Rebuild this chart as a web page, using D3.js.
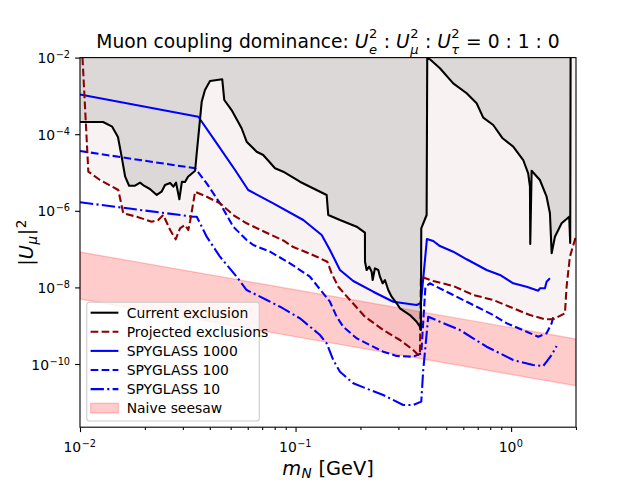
<!DOCTYPE html>
<html lang="en">
<head>
<meta charset="UTF-8">
<title>Muon coupling dominance</title>
<script src="https://d3js.org/d3.v7.min.js"></script>
<style>
  body { margin: 0; background: #fff; }
  svg { font-family: "DejaVu Sans", sans-serif; }
  .tick line { stroke: #000; stroke-width: 1.1; }
</style>
</head>
<body>
<svg width="640" height="480"></svg>
<script>
// values: [m_N in GeV, |U_mu|^2]
const currentExclusion = [
  [0.0100, 2.08e-4], [0.0128, 2.08e-4], [0.0141, 1.57e-4], [0.0150, 8.45e-5],
  [0.0156, 2.59e-5], [0.0162, 7.77e-6], [0.0169, 4.52e-6], [0.0180, 4.52e-6],
  [0.0190, 5.42e-6], [0.0198, 4.52e-6], [0.0211, 3.71e-6], [0.0227, 2.59e-6],
  [0.0239, 3.15e-6], [0.0248, 4.72e-6], [0.0262, 5.32e-6], [0.0271, 4.26e-6],
  [0.0279, 5.42e-6], [0.0289, 2.00e-6], [0.0297, 5.75e-6], [0.0307, 5.65e-6],
  [0.0317, 7.77e-6], [0.0342, 1.11e-5], [0.0348, 3.23e-5], [0.0354, 8.60e-5],
  [0.0367, 7.06e-4], [0.0380, 1.43e-3], [0.0401, 2.45e-3], [0.0457, 2.71e-3],
  [0.0467, 7.82e-4], [0.0505, 4.28e-4], [0.0562, 1.43e-4], [0.0593, 6.37e-5],
  [0.0660, 3.49e-5], [0.0708, 2.86e-5], [0.0803, 1.29e-5], [0.0877, 1.05e-5],
  [0.1048, 5.75e-6], [0.1166, 4.26e-6], [0.1394, 2.59e-6], [0.1418, 7.77e-7],
  [0.1607, 5.75e-7], [0.1920, 3.85e-7], [0.2098, 2.68e-7], [0.2100, 4.69e-8],
  [0.2137, 2.85e-8], [0.2197, 3.47e-8], [0.2254, 2.57e-8], [0.2279, 1.56e-8],
  [0.2335, 3.15e-8], [0.2419, 2.85e-8], [0.2464, 1.90e-8], [0.2535, 1.28e-8],
  [0.2598, 1.56e-8], [0.2692, 8.55e-9], [0.2791, 5.72e-9], [0.2943, 3.85e-9],
  [0.3049, 2.85e-9], [0.3393, 1.90e-9], [0.3645, 1.27e-9], [0.3776, 9.42e-10],
  [0.3815, 7.72e-10], [0.3830, 3.49e-7], [0.4056, 7.77e-7], [0.4082, 1.00e-2],
  [0.4201, 9.03e-3], [0.4675, 5.26e-3], [0.5389, 2.13e-3], [0.6219, 1.17e-3],
  [0.6918, 6.41e-4], [0.7424, 2.70e-4], [0.8260, 1.74e-4], [0.9134, 7.82e-5],
  [1.023, 4.72e-5], [1.138, 2.12e-5], [1.200, 9.53e-6], [1.223, 4.26e-6],
  [1.227, 1.36e-7], [1.245, 1.11e-5], [1.360, 6.37e-6], [1.461, 2.33e-6],
  [1.514, 8.60e-7], [1.542, 7.77e-8], [1.597, 2.11e-7], [1.715, 4.72e-7],
  [1.860, 7.02e-7], [1.880, 1.44e-7], [1.888, 1.00e-2]
];

const projectedExclusion = [
  [0.01027, 1.00e-2], [0.01093, 1.05e-5], [0.01238, 6.37e-6], [0.01505, 3.49e-6],
  [0.01588, 8.60e-7], [0.01832, 7.02e-7], [0.0215, 5.19e-7], [0.02307, 5.75e-7],
  [0.02434, 7.77e-7], [0.0262, 3.15e-7], [0.02779, 1.80e-7], [0.0291, 3.49e-7],
  [0.0307, 4.26e-7], [0.0318, 3.15e-7], [0.0324, 5.19e-7], [0.0342, 3.15e-6],
  [0.0387, 2.33e-6], [0.0446, 1.57e-6], [0.0514, 7.77e-7], [0.0593, 4.72e-7],
  [0.0721, 2.80e-7], [0.0877, 1.68e-7], [0.0976, 1.13e-7], [0.1106, 8.55e-8],
  [0.1253, 6.33e-8], [0.1403, 4.69e-8], [0.1470, 2.33e-8], [0.1578, 1.04e-8],
  [0.1788, 4.69e-9], [0.2098, 1.72e-9], [0.2551, 7.72e-10], [0.3049, 4.23e-10],
  [0.3515, 2.32e-10], [0.3708, 1.72e-10], [0.3776, 1.90e-10], [0.3816, 1.90e-8],
  [0.4352, 1.47e-8], [0.5389, 1.09e-8], [0.6671, 6.33e-9], [0.8260, 4.69e-9],
  [1.023, 2.85e-9], [1.223, 1.90e-9], [1.435, 1.47e-9], [1.568, 1.47e-9],
  [1.777, 2.11e-9], [1.809, 1.04e-8], [1.874, 6.33e-8], [2.000, 2.20e-7]
];

const spyglass1000 = [
  [0.0100, 1.09e-3], [0.0354, 2.86e-4], [0.0431, 5.79e-5], [0.0524, 1.16e-5],
  [0.0603, 3.49e-6], [0.0788, 1.57e-6], [0.1086, 5.75e-7], [0.1322, 2.33e-7],
  [0.1444, 9.47e-8], [0.1607, 2.85e-8], [0.1852, 1.47e-8], [0.2293, 7.72e-9],
  [0.2839, 4.23e-9], [0.3645, 3.47e-9], [0.3816, 3.91e-9], [0.4069, 1.84e-7],
  [0.4352, 1.63e-7], [0.4675, 1.20e-7], [0.5389, 8.55e-8], [0.6219, 5.42e-8],
  [0.7697, 2.85e-8], [0.8874, 2.11e-8], [1.023, 1.28e-8], [1.180, 1.04e-8],
  [1.336, 8.20e-9], [1.360, 9.47e-9], [1.435, 9.47e-9], [1.461, 1.41e-8],
  [1.514, 1.73e-8]
];

const spyglass100 = [
  [0.0100, 3.64e-5], [0.0342, 1.29e-5], [0.0387, 5.22e-6], [0.0446, 1.57e-6],
  [0.0514, 3.85e-7], [0.0593, 1.73e-7], [0.0637, 1.28e-7], [0.0761, 8.55e-8],
  [0.0942, 4.26e-8], [0.1166, 1.90e-8], [0.1344, 7.02e-9], [0.1444, 4.23e-9],
  [0.1551, 1.72e-9], [0.1664, 9.42e-10], [0.1920, 4.69e-10], [0.2214, 3.13e-10],
  [0.2551, 2.10e-10], [0.2943, 1.62e-10], [0.3515, 1.55e-10], [0.3830, 1.90e-10],
  [0.4004, 1.04e-8], [0.4201, 1.28e-8], [0.4513, 1.04e-8], [0.5389, 6.33e-9],
  [0.6671, 3.47e-9], [0.8260, 1.90e-9], [0.9530, 1.16e-9], [1.180, 6.97e-10],
  [1.336, 5.16e-10], [1.461, 6.33e-10], [1.542, 1.16e-9], [1.568, 1.72e-9]
];

const spyglass10 = [
  [0.0100, 1.67e-6], [0.0335, 7.02e-7], [0.0348, 7.02e-7], [0.0387, 2.11e-7],
  [0.0446, 6.33e-8], [0.0533, 1.90e-8], [0.0593, 8.55e-9], [0.0735, 4.69e-9],
  [0.0847, 3.13e-9], [0.1048, 1.56e-9], [0.1298, 5.72e-10], [0.1394, 3.47e-10],
  [0.1496, 1.27e-10], [0.1607, 6.30e-11], [0.1852, 3.13e-11], [0.2214, 2.10e-11],
  [0.2551, 1.55e-11], [0.3159, 8.50e-12], [0.3515, 8.50e-12], [0.3830, 1.04e-11],
  [0.3911, 6.97e-11], [0.4126, 1.72e-9], [0.4675, 1.27e-9], [0.5788, 7.72e-10],
  [0.7697, 2.83e-10], [1.023, 1.27e-10], [1.266, 9.42e-11], [1.409, 8.87e-11],
  [1.461, 1.15e-10], [1.542, 1.72e-10], [1.626, 2.95e-10]
];

// naive seesaw band edges
const seesawMass = [0.01, 2];
const seesawLow = [5.0e-9, 2.7e-11];
const seesawHigh = [8.4e-8, 4.5e-10];

const xTickValues = [0.01, 0.1, 1];
const xTickExp = ["−2", "−1", "0"];
const yTickValues = [1e-2, 1e-4, 1e-6, 1e-8, 1e-10];
const yTickExp = ["−2", "−4", "−6", "−8", "−10"];

const legendLabels = ["Current exclusion", "Projected exclusions", "SPYGLASS 1000",
                      "SPYGLASS 100", "SPYGLASS 10", "Naive seesaw"];

// ---------------------------------------------------------------
const svg = d3.select("svg");
const L = 80, R = 576, T = 57.6, B = 427.2;

const x = d3.scaleLog().domain([0.01, 2]).range([L, R]);
const y = d3.scaleLog().domain([Math.pow(10, -11.65), 1e-2]).range([B, T]);

const line = d3.line().x(d => x(d[0])).y(d => y(d[1]));
const lw = 2.08;
const DASH = "7.7,3.3";
const DASHDOT = "13.3,3.3,2.1,3.3";

svg.append("clipPath").attr("id", "plot")
  .append("rect").attr("x", L).attr("y", T).attr("width", R - L).attr("height", B - T);

const plot = svg.append("g").attr("clip-path", "url(#plot)");

// projected region (everything above the dashed red line)
plot.append("path")
  .attr("d", line([[0.01, 1e-2], ...projectedExclusion, [2, 1e-2]]) + "Z")
  .attr("fill", "#f8f2f2");

// current exclusion region
plot.append("path")
  .attr("d", line([...currentExclusion, [0.01, 1e-2]]) + "Z")
  .attr("fill", "#ddd8d8");

// seesaw band
const band = seesawMass.map((m, i) => [m, seesawHigh[i]])
  .concat(seesawMass.map((m, i) => [m, seesawLow[i]]).reverse());
plot.append("path")
  .attr("d", line(band) + "Z")
  .attr("fill", "rgba(255,0,0,0.2)")
  .attr("stroke", "rgba(255,0,0,0.2)")
  .attr("stroke-width", 1.4);

const series = [
  { data: spyglass10, color: "#0000ff", dash: DASHDOT },
  { data: spyglass100, color: "#0000ff", dash: DASH },
  { data: spyglass1000, color: "#0000ff", dash: null },
  { data: projectedExclusion, color: "#8b0000", dash: DASH },
  { data: currentExclusion, color: "#000000", dash: null }
];
series.forEach(s => {
  plot.append("path")
    .attr("d", line(s.data))
    .attr("fill", "none")
    .attr("stroke", s.color)
    .attr("stroke-width", lw)
    .attr("stroke-linejoin", "round")
    .attr("stroke-dasharray", s.dash);
});

// ---- text with simple math layout (italic, sub/sup), one <text> per label ----
function rich(parent, px, py, parts, size, anchor, rotate) {
  const g = parent.append("g")
    .attr("transform", `translate(${px},${py})` + (rotate ? ` rotate(${rotate})` : ""));
  const measure = g.append("text").style("white-space", "pre");
  const width = (txt, fs, it) => {
    measure.attr("font-size", fs).attr("font-style", it ? "italic" : "normal").text(txt);
    return measure.node().getComputedTextLength();
  };
  const spans = [];
  let cx = 0;
  parts.forEach(p => {
    spans.push({ t: p.t, x: cx, y: 0, fs: size, it: p.it });
    cx += width(p.t, size, p.it);
    const both = p.sub && p.sup;
    let adv = 0;
    if (p.sub) {
      spans.push({ t: p.sub, x: cx + 0.5, y: size * (both ? 0.33 : 0.2), fs: size * 0.7, it: p.subIt });
      adv = Math.max(adv, width(p.sub, size * 0.7, p.subIt));
    }
    if (p.sup) {
      spans.push({ t: p.sup, x: cx + 0.5, y: -size * (both ? 0.52 : 0.36), fs: size * 0.7, it: false });
      adv = Math.max(adv, width(p.sup, size * 0.7, false));
    }
    cx += adv ? adv + 1 : 0;
  });
  measure.remove();
  const shift = anchor === "middle" ? -cx / 2 : anchor === "end" ? -cx : 0;
  const t = g.append("text").attr("fill", "#000").style("white-space", "pre");
  spans.forEach(s => {
    t.append("tspan").attr("x", s.x + shift).attr("y", s.y)
      .attr("font-size", s.fs).attr("font-style", s.it ? "italic" : "normal").text(s.t);
  });
  return g;
}

// axes frame
svg.append("rect").attr("x", L).attr("y", T).attr("width", R - L).attr("height", B - T)
  .attr("fill", "none").attr("stroke", "#000").attr("stroke-width", 1.1);

// x ticks
const minorX = [];
[0.01, 0.1, 1].forEach(d => { for (let k = 2; k <= 9; k++) if (d * k <= 2.0001) minorX.push(d * k); });
svg.append("g").attr("transform", `translate(0,${B})`)
  .call(d3.axisBottom(x).tickValues(xTickValues).tickSize(4.9).tickFormat(""))
  .call(g => g.select(".domain").remove());
svg.append("g").attr("transform", `translate(0,${B})`)
  .call(d3.axisBottom(x).tickValues(minorX).tickSize(2.8).tickFormat(""))
  .call(g => g.select(".domain").remove());
xTickValues.forEach((v, i) => rich(svg, x(v), 451.5, [{ t: "10", sup: xTickExp[i] }], 13.9, "middle"));

// y ticks
svg.append("g").attr("transform", `translate(${L},0)`)
  .call(d3.axisLeft(y).tickValues(yTickValues).tickSize(4.9).tickFormat(""))
  .call(g => g.select(".domain").remove());
yTickValues.forEach((v, i) => rich(svg, 70.5, y(v) + 5.5, [{ t: "10", sup: yTickExp[i] }], 13.9, "end"));

// title and axis labels
rich(svg, 328, 47.5, [
  { t: "Muon coupling dominance: " },
  { t: "U", it: true, sub: "e", subIt: true, sup: "2" },
  { t: " : " },
  { t: "U", it: true, sub: "μ", subIt: true, sup: "2" },
  { t: " : " },
  { t: "U", it: true, sub: "τ", subIt: true, sup: "2" },
  { t: " = 0 : 1 : 0" }
], 18.7, "middle");

rich(svg, 328, 474.5, [
  { t: "m", it: true, sub: "N", subIt: true },
  { t: " [GeV]" }
], 19.4, "middle");

rich(svg, 33, 242.4, [
  { t: "|" },
  { t: "U", it: true, sub: "μ", subIt: true },
  { t: "|", sup: "2" }
], 19.4, "middle", -90);

// legend
const leg = svg.append("g");
leg.append("rect").attr("x", 86.7).attr("y", 302.3).attr("width", 172.6).attr("height", 118.7)
  .attr("rx", 2.8).attr("fill", "rgba(255,255,255,0.8)").attr("stroke", "#cccccc").attr("stroke-width", 1.1);
const legStyle = [
  { color: "#000000", dash: null },
  { color: "#8b0000", dash: DASH },
  { color: "#0000ff", dash: null },
  { color: "#0000ff", dash: DASH },
  { color: "#0000ff", dash: DASHDOT },
  { patch: true }
];
legendLabels.forEach((lab, i) => {
  const cy = 312.7 + i * 19.1;
  const st = legStyle[i];
  if (st.patch) {
    leg.append("rect").attr("x", 90.6).attr("y", cy - 4.9).attr("width", 27.8).attr("height", 9.7)
      .attr("fill", "rgba(255,0,0,0.2)").attr("stroke", "rgba(255,0,0,0.2)").attr("stroke-width", 1.4);
  } else {
    leg.append("line").attr("x1", 90.6).attr("x2", 118.4).attr("y1", cy).attr("y2", cy)
      .attr("stroke", st.color).attr("stroke-width", lw).attr("stroke-dasharray", st.dash);
  }
  leg.append("text").attr("x", 126.7).attr("y", cy + 5).attr("font-size", 13.9).text(lab);
});
</script>
</body>
</html>
